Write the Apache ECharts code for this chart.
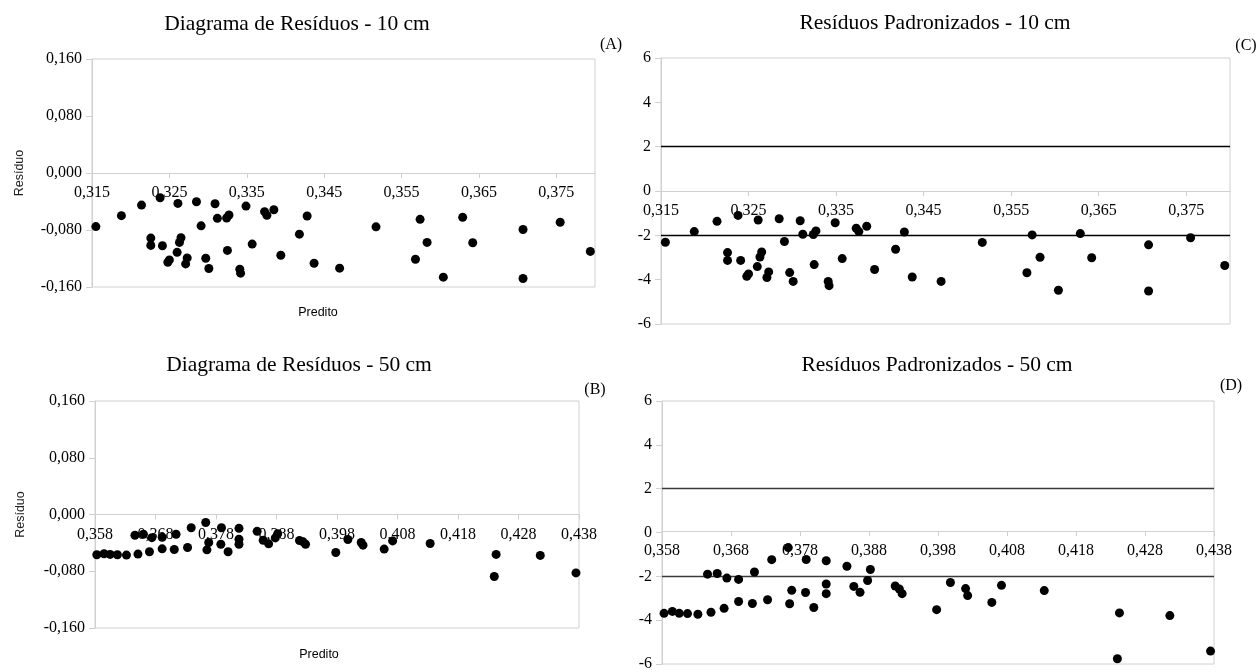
<!DOCTYPE html>
<html>
<head>
<meta charset="utf-8">
<script src="https://cdn.jsdelivr.net/npm/echarts@6/dist/echarts.min.js"></script>
<style>
  html, body { margin: 0; padding: 0; background: #fff; }
  #chart { width: 1258px; height: 672px; }
</style>
</head>
<body>
<div id="chart"></div>
<script>
// predito (10 cm) - shared by (A) and (C)
const predito10 = [
  0.3155, 0.3188, 0.3214, 0.3238, 0.3261, 0.3285, 0.3309, 0.3349, 0.3373, 0.3376,
  0.3385, 0.3312, 0.3324, 0.3327, 0.3291, 0.3428, 0.3418, 0.3517, 0.3574, 0.3629,
  0.3707, 0.3755, 0.3226, 0.3226, 0.3241, 0.3265, 0.3263, 0.3260, 0.3250, 0.3248,
  0.3273, 0.3271, 0.3297, 0.3301, 0.3325, 0.3357, 0.3341, 0.3342, 0.3394, 0.3437,
  0.3470, 0.3568, 0.3583, 0.3642, 0.3604, 0.3707, 0.3794
]
const residuo10 = [
  -0.0752, -0.0599, -0.0450, -0.0348, -0.0427, -0.0404, -0.0432, -0.0464, -0.0543, -0.0594,
  -0.0515, -0.0636, -0.0631, -0.0589, -0.0742, -0.0603, -0.0858, -0.0756, -0.0650, -0.0622,
  -0.0793, -0.0691, -0.0914, -0.1016, -0.1021, -0.0909, -0.0974, -0.1114, -0.1220, -0.1253,
  -0.1192, -0.1276, -0.1197, -0.1341, -0.1086, -0.0998, -0.1350, -0.1406, -0.1155, -0.1267,
  -0.1336, -0.1211, -0.0974, -0.0979, -0.1462, -0.1480, -0.1100
]
const padronizado10 = [
  -2.31, -1.83, -1.37, -1.10, -1.31, -1.25, -1.34, -1.43, -1.68, -1.83,
  -1.59, -1.95, -1.96, -1.80, -2.28, -1.85, -2.63, -2.32, -1.98, -1.92,
  -2.43, -2.11, -2.78, -3.13, -3.13, -2.75, -2.98, -3.41, -3.74, -3.85,
  -3.65, -3.90, -3.68, -4.08, -3.32, -3.05, -4.08, -4.27, -3.54, -3.88,
  -4.08, -3.69, -2.99, -3.01, -4.48, -4.51, -3.36
]

// predito (50 cm) - shared by (B) and (D)
const predito50 = [
  0.3583, 0.3595, 0.3605, 0.3617, 0.3632, 0.3651, 0.3646, 0.3660, 0.3674, 0.3670,
  0.3691, 0.3691, 0.3714, 0.3711, 0.3739, 0.3733, 0.3763, 0.3768, 0.3765, 0.3789,
  0.3788, 0.3800, 0.3818, 0.3818, 0.3818, 0.3848, 0.3858, 0.3867, 0.3878, 0.3882,
  0.3918, 0.3924, 0.3928, 0.3978, 0.3998, 0.4020, 0.4023, 0.4058, 0.4072, 0.4134,
  0.4243, 0.4240, 0.4316, 0.4375
]
const residuo50 = [
  -0.0567, -0.0553, -0.0563, -0.0567, -0.0572, -0.0558, -0.0293, -0.0279, -0.0326, -0.0525,
  -0.0321, -0.0484, -0.0279, -0.0493, -0.0186, -0.0465, -0.0112, -0.0395, -0.0498, -0.0186,
  -0.0419, -0.0525, -0.0195, -0.0349, -0.0419, -0.0237, -0.0363, -0.0414, -0.0330, -0.0270,
  -0.0367, -0.0385, -0.0419, -0.0535, -0.0353, -0.0395, -0.0432, -0.0488, -0.0372, -0.0409,
  -0.0563, -0.0874, -0.0577, -0.0823
]
const padronizado50 = [
  -3.69, -3.60, -3.69, -3.70, -3.73, -3.64, -1.90, -1.87, -2.08, -3.46,
  -2.14, -3.15, -1.80, -3.24, -1.24, -3.07, -0.69, -2.64, -3.25, -1.23,
  -2.74, -3.42, -1.29, -2.35, -2.79, -1.54, -2.46, -2.73, -2.19, -1.69,
  -2.44, -2.58, -2.79, -3.52, -2.28, -2.56, -2.88, -3.19, -2.41, -2.65,
  -3.67, -5.76, -3.79, -5.41
]

const limites = [2, -2]

const titulos = [
  'Diagrama de Resíduos - 10 cm',
  'Diagrama de Resíduos - 50 cm',
  'Resíduos Padronizados - 10 cm',
  'Resíduos Padronizados - 50 cm',
]
const letras = ['(A)', '(B)', '(C)', '(D)']

const serif = '"Liberation Serif", "Times New Roman", serif'
const sans = '"Liberation Sans", Arial, sans-serif'
const gray = '#d0d0d0'

const grids = [
  { left: 92, top: 59, width: 503, height: 228 },
  { left: 95, top: 401, width: 484, height: 227 },
  { left: 661, top: 58, width: 569, height: 266 },
  { left: 662, top: 401, width: 552, height: 266 },
]

const pairs = (xs, ys) => xs.map((x, i) => [x, ys[i]])
const virgula = (d) => (v) => v.toFixed(d).replace('.', ',')

// y ranges are symmetric, so the zero line sits at half the grid height:
// pull the x axis (line, ticks, labels) up there with a negative offset
function xAx(gridIndex, min, max, hideMax) {
  return {
    type: 'value',
    gridIndex,
    min,
    max,
    interval: 0.01,
    offset: -grids[gridIndex].height / 2,
    axisLine: { show: true, onZero: false, lineStyle: { color: gray, width: 1 } },
    axisTick: { show: true, length: 5, lineStyle: { color: gray } },
    axisLabel: {
      formatter: virgula(3),
      fontFamily: serif,
      fontSize: 16,
      color: '#000',
      margin: 12,
      showMinLabel: true,
      showMaxLabel: !hideMax,
    },
    splitLine: { show: false },
  }
}

function yAx(gridIndex, min, max, interval, fmt, name, gap) {
  return {
    type: 'value',
    gridIndex,
    min,
    max,
    interval,
    name: name || '',
    nameLocation: 'middle',
    nameGap: gap || 0,
    nameTextStyle: { fontFamily: sans, fontSize: 12.5, color: '#222' },
    axisLine: { show: true, onZero: false, lineStyle: { color: gray, width: 1 } },
    axisTick: { show: true, length: 6, lineStyle: { color: gray } },
    axisLabel: { formatter: fmt, fontFamily: serif, fontSize: 16, color: '#000', margin: 10 },
    splitLine: { show: false },
  }
}

function pontos(i, data, linhas) {
  const s = {
    type: 'scatter',
    xAxisIndex: i,
    yAxisIndex: i,
    data,
    symbol: 'circle',
    symbolSize: 9,
    itemStyle: { color: '#000', opacity: 1 },
    z: 3,
  }
  if (linhas) {
    s.markLine = {
      silent: true,
      symbol: ['none', 'none'],
      label: { show: false },
      z: 1,
      lineStyle: { color: linhas, width: 1.4, type: 'solid' },
      data: limites.map((v) => ({ yAxis: v })),
    }
  }
  return s
}

const txt = (text, x, y, font) => ({
  type: 'text',
  x,
  y,
  style: {
    text,
    font,
    fill: '#000',
    align: 'center',
    verticalAlign: 'middle',
    textAlign: 'center',
    textVerticalAlign: 'middle',
  },
})

const chart = echarts.init(document.getElementById('chart'), null, { renderer: 'canvas' })
chart.setOption({
  backgroundColor: '#fff',
  animation: false,
  grid: grids.map((g) => ({ ...g, show: true, borderColor: gray, borderWidth: 1 })),
  xAxis: [
    xAx(0, 0.315, 0.38, true),
    xAx(1, 0.358, 0.438, false),
    xAx(2, 0.315, 0.38, true),
    xAx(3, 0.358, 0.438, false),
  ],
  yAxis: [
    yAx(0, -0.16, 0.16, 0.08, virgula(3), 'Resíduo', 66),
    yAx(1, -0.16, 0.16, 0.08, virgula(3), 'Resíduo', 68),
    yAx(2, -6, 6, 2, (v) => String(v)),
    yAx(3, -6, 6, 2, (v) => String(v)),
  ],
  graphic: [
    txt(titulos[0], 297, 24, '21.5px ' + serif),
    txt(titulos[1], 299, 365, '21.5px ' + serif),
    txt(titulos[2], 935, 23, '21.5px ' + serif),
    txt(titulos[3], 937, 365, '21.5px ' + serif),
    txt(letras[0], 611, 45, '16px ' + serif),
    txt(letras[1], 595, 390, '16px ' + serif),
    txt(letras[2], 1246, 46, '16px ' + serif),
    txt(letras[3], 1231, 386, '16px ' + serif),
    txt('Predito', 318, 313, '12.5px ' + sans),
    txt('Predito', 319, 655, '12.5px ' + sans),
  ],
  series: [
    pontos(0, pairs(predito10, residuo10)),
    pontos(1, pairs(predito50, residuo50)),
    pontos(2, pairs(predito10, padronizado10), '#000'),
    pontos(3, pairs(predito50, padronizado50), '#3a3a3a'),
  ],
})
</script>
</body>
</html>
